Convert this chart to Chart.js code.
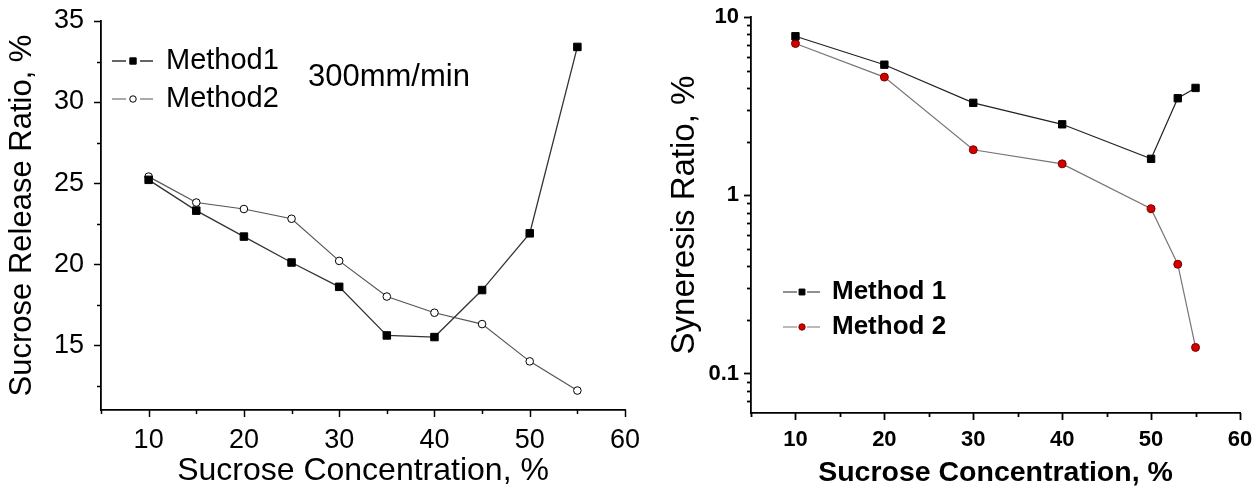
<!DOCTYPE html>
<html>
<head>
<meta charset="utf-8">
<title>Sucrose release / syneresis</title>
<script src="https://cdn.jsdelivr.net/npm/chart.js@4.4.1/dist/chart.umd.min.js"></script>
<style>
  html, body { margin: 0; padding: 0; background: #fff; }
  #wrap { position: relative; width: 1253px; height: 487px; overflow: hidden; }
  canvas { position: absolute; top: 0; }
  #c-release { left: 0; }
  #c-syneresis { left: 640px; }
</style>
</head>
<body>
<div id="wrap">
  <canvas id="c-release" width="640" height="487"></canvas>
  <canvas id="c-syneresis" width="613" height="487"></canvas>
</div>
<script>
// ---- DATA ----
var CONC_RELEASE  = [10, 15, 20, 25, 30, 35, 40, 45, 50, 55];
var RELEASE_M1    = [25.2, 23.3, 21.7, 20.1, 18.6, 15.6, 15.5, 18.4, 21.9, 33.4];
var RELEASE_M2    = [25.4, 23.8, 23.4, 22.8, 20.2, 18.0, 17.0, 16.3, 14.0, 12.2];

var CONC_SYN      = [10, 20, 30, 40, 50, 53, 55];
var SYNERESIS_M1  = [7.8, 5.4, 3.3, 2.5, 1.6, 3.5, 4.0];
var SYNERESIS_M2  = [7.1, 4.6, 1.8, 1.5, 0.84, 0.41, 0.14];

var X_TICKS       = [10, 20, 30, 40, 50, 60];
var X_MINOR       = [5, 15, 25, 35, 45, 55];
var RELEASE_TICKS = [15, 20, 25, 30, 35];
var RELEASE_MINOR = [12.5, 17.5, 22.5, 27.5, 32.5];
var SYN_TICKS     = [0.1, 1, 10];
var SYN_MINOR     = [0.07, 0.08, 0.09, 0.2, 0.3, 0.4, 0.5, 0.6, 0.7, 0.8, 0.9, 2, 3, 4, 5, 6, 7, 8, 9];

var FAMILY = "'Liberation Sans', Arial, sans-serif";

// ---- HELPERS ----
function pts(xs, ys) {
  return xs.map(function(x, i) { return { x: x, y: ys[i] }; });
}

function fixedTicks(list) {
  return function(scale) {
    scale.ticks = list.map(function(v) { return { value: v }; });
  };
}

// fixed axis box, no extra room for overhanging labels
function fitX(h) {
  return function(s) { s.height = h; s.paddingLeft = 0; s.paddingRight = 0; };
}
function fitY(w) {
  return function(s) { s.width = w; s.paddingTop = 0; s.paddingBottom = 0; };
}

// outward tick marks, major + minor
var tickMarks = {
  id: "tickMarks",
  afterDraw: function(chart, args, opts) {
    var ctx = chart.ctx;
    ctx.save();
    ctx.strokeStyle = "#000";
    ctx.lineWidth = opts.width;
    ["x", "y"].forEach(function(id) {
      var scale = chart.scales[id];
      var spec = opts[id];
      [[spec.major, opts.majorLen], [spec.minor, opts.minorLen]].forEach(function(pair) {
        pair[0].forEach(function(v) {
          var p = Math.round(scale.getPixelForValue(v)) + 0.5;
          ctx.beginPath();
          if (id === "x") {
            ctx.moveTo(p, scale.top);
            ctx.lineTo(p, scale.top + pair[1]);
          } else {
            ctx.moveTo(scale.right, p);
            ctx.lineTo(scale.right - pair[1], p);
          }
          ctx.stroke();
        });
      });
    });
    ctx.restore();
  }
};

// legend drawn inside the plot: line - marker - line, then the label
var legendBox = {
  id: "legendBox",
  afterDraw: function(chart, args, opts) {
    var ctx = chart.ctx;
    chart.data.datasets.forEach(function(ds, i) {
      var y = opts.y0 + i * opts.dy;
      ctx.save();
      ctx.strokeStyle = ds.borderColor;
      ctx.lineWidth = ds.borderWidth;
      ctx.beginPath();
      ctx.moveTo(opts.x0, y);
      ctx.lineTo(opts.xm - opts.gap, y);
      ctx.moveTo(opts.xm + opts.gap, y);
      ctx.lineTo(opts.x1, y);
      ctx.stroke();

      ctx.fillStyle = ds.pointBackgroundColor;
      ctx.strokeStyle = ds.pointBorderColor;
      ctx.lineWidth = ds.pointBorderWidth;
      Chart.helpers.drawPoint(ctx, {
        pointStyle: ds.pointStyle,
        radius: ds.pointRadius * opts.scale,
        borderWidth: ds.pointBorderWidth,
        rotation: 0
      }, opts.xm, y);

      ctx.fillStyle = "#000";
      ctx.font = opts.font;
      ctx.textBaseline = "middle";
      ctx.textAlign = "left";
      ctx.fillText(ds.label, opts.tx, y);
      ctx.restore();
    });
    if (opts.note) {
      ctx.save();
      ctx.fillStyle = "#000";
      ctx.font = opts.note.font;
      ctx.textBaseline = "middle";
      ctx.fillText(opts.note.text, opts.note.x, opts.note.y);
      ctx.restore();
    }
  }
};

function axisBase(fontSpec, padding) {
  return {
    grid: { drawOnChartArea: false, drawTicks: false },
    border: { display: true, color: "#000", width: 1.8 },
    ticks: { color: "#000", font: fontSpec, padding: padding, autoSkip: false, maxRotation: 0 }
  };
}

// ---- LEFT: sucrose release ratio ----
var relX = axisBase({ family: FAMILY, size: 27 }, 14);
relX.type = "linear";
relX.min = 5;
relX.max = 60;
relX.afterBuildTicks = fixedTicks(X_TICKS);
relX.afterFit = fitX(77);
relX.title = { display: true, text: "Sucrose Concentration, %", color: "#000",
  font: { family: FAMILY, size: 32, lineHeight: 1 }, padding: { top: 0, bottom: 0 } };

var relY = axisBase({ family: FAMILY, size: 27 }, 17);
relY.type = "linear";
relY.min = 11;
relY.max = 35;
relY.afterBuildTicks = fixedTicks(RELEASE_TICKS);
relY.afterFit = fitY(101);
relY.title = { display: true, text: "Sucrose Release Ratio, %", color: "#000",
  font: { family: FAMILY, size: 31, lineHeight: 1.2 }, padding: { top: 4, bottom: 0 } };

new Chart(document.getElementById("c-release"), {
  type: "scatter",
  data: {
    datasets: [{
      label: "Method1",
      data: pts(CONC_RELEASE, RELEASE_M1),
      showLine: true,
      borderColor: "#333",
      borderWidth: 1.3,
      pointStyle: "rect",
      pointRadius: 5.3,
      pointBackgroundColor: "#000",
      pointBorderColor: "#000",
      pointBorderWidth: 1
    }, {
      label: "Method2",
      data: pts(CONC_RELEASE, RELEASE_M2),
      showLine: true,
      borderColor: "#555",
      borderWidth: 1.2,
      pointStyle: "circle",
      pointRadius: 3.8,
      pointBackgroundColor: "#fff",
      pointBorderColor: "#000",
      pointBorderWidth: 1
    }]
  },
  options: {
    responsive: false,
    animation: false,
    layout: { padding: { top: 21, right: 15, left: 0, bottom: 0 } },
    plugins: {
      legend: { display: false },
      tooltip: { enabled: false },
      tickMarks: { width: 1.5, majorLen: 7, minorLen: 4,
        x: { major: X_TICKS, minor: X_MINOR },
        y: { major: RELEASE_TICKS, minor: RELEASE_MINOR } },
      legendBox: { x0: 112, x1: 153, xm: 133, gap: 7, tx: 166, y0: 61, dy: 38, scale: 0.85,
        font: "29px " + FAMILY,
        note: { text: "300mm/min", x: 308, y: 77, font: "31px " + FAMILY } }
    },
    scales: { x: relX, y: relY }
  },
  plugins: [tickMarks, legendBox]
});

// ---- RIGHT: syneresis ratio (log) ----
var BOLD = { family: FAMILY, size: 22, weight: "bold" };

var synX = axisBase(BOLD, 14);
synX.type = "linear";
synX.min = 5;
synX.max = 60;
synX.afterBuildTicks = fixedTicks(X_TICKS);
synX.afterFit = fitX(74);
synX.title = { display: true, text: "Sucrose Concentration, %", color: "#000",
  font: { family: FAMILY, size: 28.5, weight: "bold", lineHeight: 1 }, padding: { top: 0, bottom: 0 } };

var synY = axisBase(BOLD, 12);
synY.type = "logarithmic";
synY.min = 0.06;
synY.max = 10;
synY.afterBuildTicks = fixedTicks(SYN_TICKS);
synY.ticks.callback = function(v) { return v < 1 ? v.toFixed(1) : String(v); };
synY.afterFit = fitY(111);
synY.title = { display: true, text: "Syneresis Ratio, %", color: "#000",
  font: { family: FAMILY, size: 33, lineHeight: 1.2 }, padding: { top: 25, bottom: 0 } };

new Chart(document.getElementById("c-syneresis"), {
  type: "scatter",
  data: {
    datasets: [{
      label: "Method 1",
      data: pts(CONC_SYN, SYNERESIS_M1),
      showLine: true,
      borderColor: "#222",
      borderWidth: 1.2,
      pointStyle: "rect",
      pointRadius: 5.2,
      pointBackgroundColor: "#000",
      pointBorderColor: "#000",
      pointBorderWidth: 1
    }, {
      label: "Method 2",
      data: pts(CONC_SYN, SYNERESIS_M2),
      showLine: true,
      borderColor: "#7a7474",
      borderWidth: 1.2,
      pointStyle: "circle",
      pointRadius: 4,
      pointBackgroundColor: "#d40000",
      pointBorderColor: "#7a0000",
      pointBorderWidth: 1
    }]
  },
  options: {
    responsive: false,
    animation: false,
    layout: { padding: { top: 17, right: 13, left: 0, bottom: 0 } },
    plugins: {
      legend: { display: false },
      tooltip: { enabled: false },
      tickMarks: { width: 1.8, majorLen: 7, minorLen: 4,
        x: { major: X_TICKS, minor: X_MINOR },
        y: { major: SYN_TICKS, minor: SYN_MINOR } },
      legendBox: { x0: 143, x1: 180, xm: 162, gap: 5, tx: 192, y0: 292, dy: 35, scale: 0.8,
        font: "bold 26px " + FAMILY }
    },
    scales: { x: synX, y: synY }
  },
  plugins: [tickMarks, legendBox]
});
</script>
</body>
</html>
